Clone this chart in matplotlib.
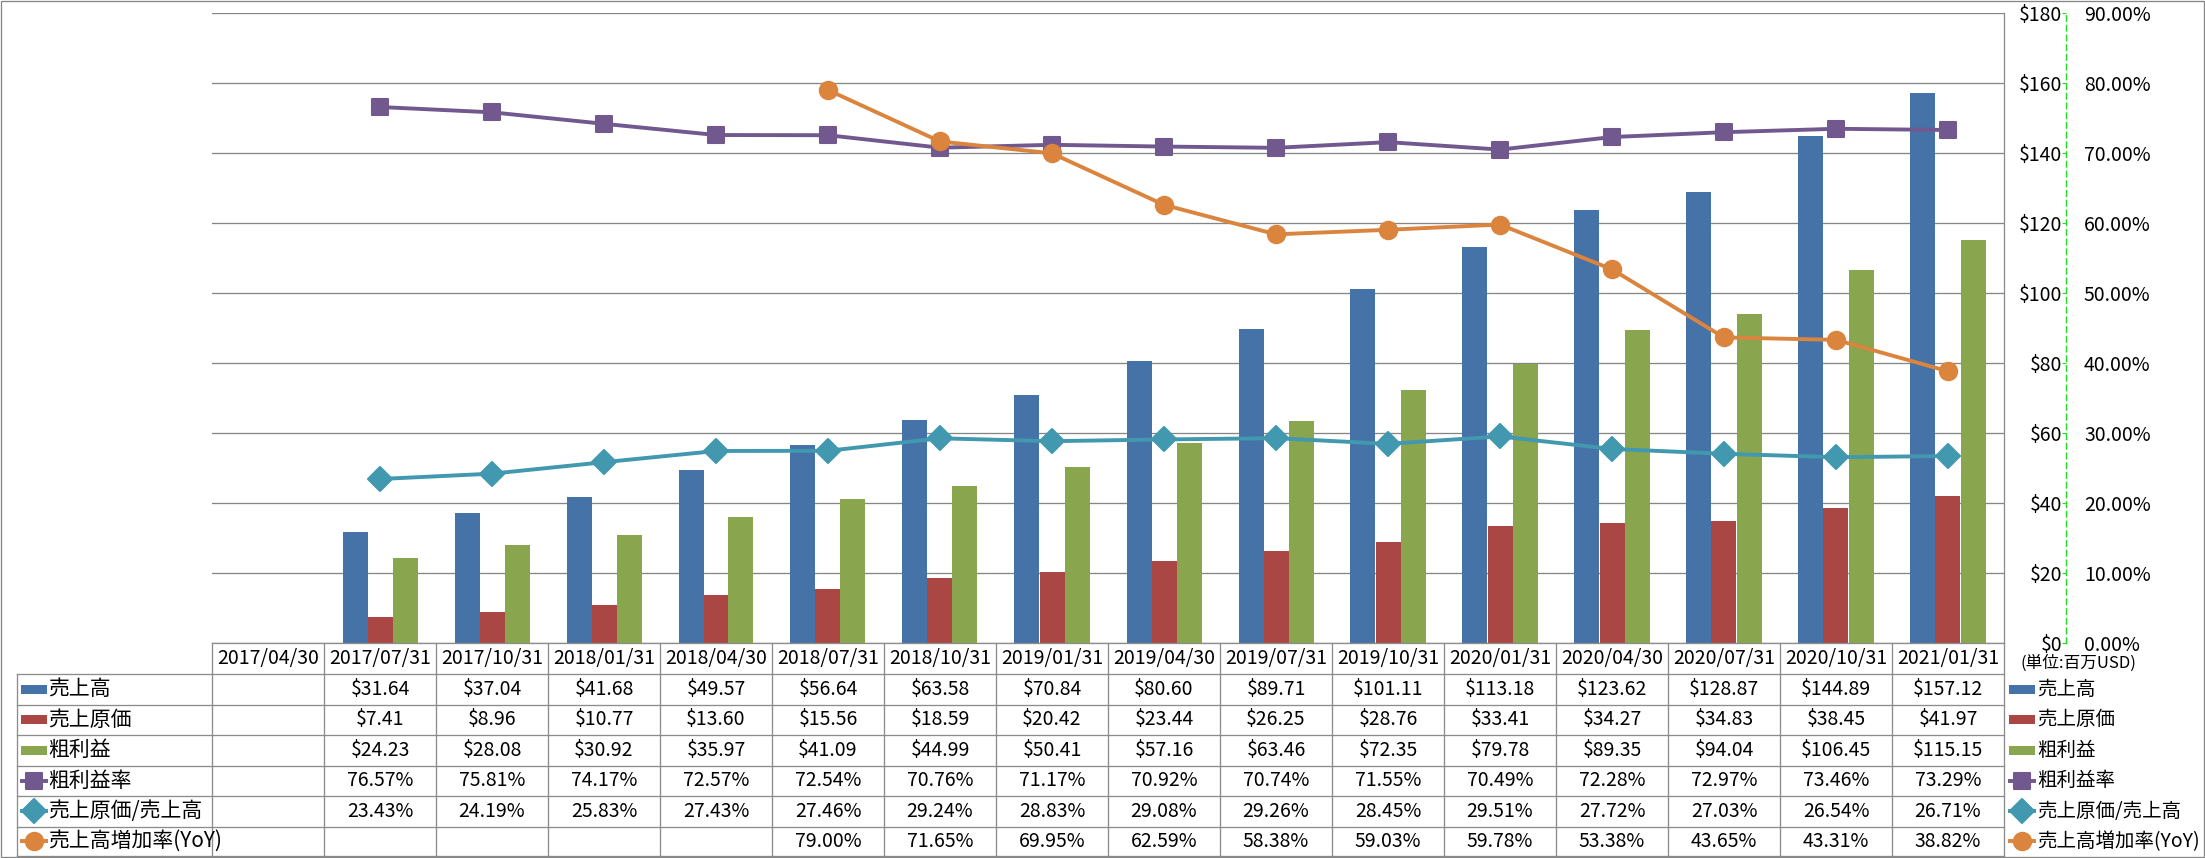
import numpy as np
import matplotlib
matplotlib.use("Agg")
import matplotlib.pyplot as plt
from matplotlib.markers import MarkerStyle
from matplotlib.patches import Rectangle
from matplotlib.ticker import FuncFormatter, MultipleLocator

plt.rcParams['font.family'] = ['Noto Sans CJK JP', 'DejaVu Sans']

# data (百万USD / %)
dates = ['2017/04/30', '2017/07/31', '2017/10/31', '2018/01/31', '2018/04/30',
         '2018/07/31', '2018/10/31', '2019/01/31', '2019/04/30', '2019/07/31',
         '2019/10/31', '2020/01/31', '2020/04/30', '2020/07/31', '2020/10/31',
         '2021/01/31']
sales = [np.nan, 31.64, 37.04, 41.68, 49.57, 56.64, 63.58, 70.84, 80.60, 89.71,
         101.11, 113.18, 123.62, 128.87, 144.89, 157.12]
cogs = [np.nan, 7.41, 8.96, 10.77, 13.60, 15.56, 18.59, 20.42, 23.44, 26.25,
        28.76, 33.41, 34.27, 34.83, 38.45, 41.97]
gross = [np.nan, 24.23, 28.08, 30.92, 35.97, 41.09, 44.99, 50.41, 57.16, 63.46,
         72.35, 79.78, 89.35, 94.04, 106.45, 115.15]
margin = [np.nan, 76.57, 75.81, 74.17, 72.57, 72.54, 70.76, 71.17, 70.92, 70.74,
          71.55, 70.49, 72.28, 72.97, 73.46, 73.29]
cogs_ratio = [np.nan, 23.43, 24.19, 25.83, 27.43, 27.46, 29.24, 28.83, 29.08, 29.26,
              28.45, 29.51, 27.72, 27.03, 26.54, 26.71]
yoy = [np.nan, np.nan, np.nan, np.nan, np.nan, 79.00, 71.65, 69.95, 62.59, 58.38,
       59.03, 59.78, 53.38, 43.65, 43.31, 38.82]

names = ['売上高', '売上原価', '粗利益', '粗利益率', '売上原価/売上高', '売上高増加率(YoY)']
colors = ['#4572A7', '#AA4643', '#89A54E', '#71588F', '#4198AF', '#DB843D']
markers = ['s', 'D', 'o']
msizes = [12, 12, 12.5]

W, H = 2205, 858
PT = 0.72  # points per pixel at 100 dpi
fig = plt.figure(figsize=(W / 100, H / 100), dpi=100)

# plot area in pixels
L, R, T, B = 212, 2004, 13, 643
n = len(dates)
colw = (R - L) / n
x = np.arange(n)

ax = fig.add_axes([L / W, 1 - B / H, (R - L) / W, (B - T) / H])
ax2 = ax.twinx()

bw = 25 / colw
for k, vals in enumerate([sales, cogs, gross]):
    ax.bar(x + (k - 1) * bw, vals, bw, color=colors[k], zorder=2)

ax.set_xlim(-0.5, n - 0.5)
ax.set_ylim(0, 180)
ax.yaxis.set_major_locator(MultipleLocator(20))
ax.yaxis.set_major_formatter(FuncFormatter(lambda v, p: f'${v:.0f}'))
ax.grid(axis='y', color='#868686', lw=1.3 * PT)
ax.set_axisbelow(True)
ax.set_xticks([])
for s in ax.spines.values():
    s.set_visible(False)
ax.yaxis.tick_right()
ax.tick_params(axis='y', length=0, pad=58 * PT, labelsize=14)
for t in ax.yaxis.get_major_ticks():
    t.label2.set_horizontalalignment('right')

line_vals = [margin, cogs_ratio, yoy]
for k, vals in enumerate(line_vals):
    ax2.plot(x, np.array(vals) / 100, color=colors[k + 3], lw=2.8,
             marker=MarkerStyle(markers[k], joinstyle='round'), ms=msizes[k],
             mec=colors[k + 3], mew=1.5, zorder=3 + k)
ax2.set_ylim(0, 0.9)
ax2.yaxis.set_major_locator(MultipleLocator(0.1))
ax2.yaxis.set_major_formatter(FuncFormatter(lambda v, p: f'{v * 100:.2f}%'))
for s in ['top', 'left', 'bottom']:
    ax2.spines[s].set_visible(False)
ax2.spines['right'].set_position(('outward', 62 * PT))
ax2.spines['right'].set_color('#22DD22')
ax2.spines['right'].set_linestyle((0, (4, 3)))
ax2.spines['right'].set_linewidth(1.0)
ax2.tick_params(axis='y', direction='in', length=4 * PT, color='#22DD22',
                pad=18 * PT, labelsize=14)

# data table + legend drawn in pixel coordinates
tab = fig.add_axes([0, 0, 1, 1], zorder=5)
tab.set_xlim(0, W)
tab.set_ylim(H, 0)
tab.axis('off')
gc = '#8C8C8C'
glw = 1.3 * PT

rows = [643, 674, 704.5, 735, 765.5, 796, 826.5, 856]
tab.plot([L, R], [rows[0], rows[0]], color=gc, lw=glw)
for y in rows[1:]:
    tab.plot([17, R], [y, y], color=gc, lw=glw)
tab.plot([17, 17], [rows[1], rows[-1]], color=gc, lw=glw)
for j in range(n):
    xl = L + j * colw
    tab.plot([xl, xl], [rows[0], rows[-1]], color=gc, lw=glw)
tab.plot([R, R], [T, rows[-1]], color=gc, lw=glw)

# outer chart border
tab.add_patch(Rectangle((1, 1), W - 2.5, H - 2.5, fill=False, ec='#868686', lw=glw))

hy = (rows[0] + rows[1]) / 2
for j, d in enumerate(dates):
    tab.text(L + (j + 0.5) * colw, hy, d, ha='center', va='center', fontsize=14)

series = [sales, cogs, gross, margin, cogs_ratio, yoy]
for r, vals in enumerate(series):
    yc = (rows[r + 1] + rows[r + 2]) / 2
    for j, v in enumerate(vals):
        if np.isnan(v):
            continue
        s = f'${v:.2f}' if r < 3 else f'{v:.2f}%'
        tab.text(L + (j + 0.5) * colw, yc, s, ha='center', va='center', fontsize=14)

    # key in row label and in right legend
    for kx, tx, fs in [(20, 48, 15), (2008, 2037, 14)]:
        if r < 3:
            tab.add_patch(Rectangle((kx + 1, yc - 4.5), 26, 9, color=colors[r], lw=0))
        else:
            tab.plot([kx, kx + 28], [yc, yc], color=colors[r], lw=2.8, solid_capstyle='butt')
            tab.plot([kx + 14], [yc], marker=MarkerStyle(markers[r - 3], joinstyle='round'),
                     ms=msizes[r - 3], color=colors[r], mec=colors[r], mew=1.5)
        tab.text(tx, yc, names[r], ha='left', va='center', fontsize=fs)

tab.text(2020, 663, '(単位:百万USD)', ha='left', va='center', fontsize=12)

fig.savefig('out.png', dpi=100)
